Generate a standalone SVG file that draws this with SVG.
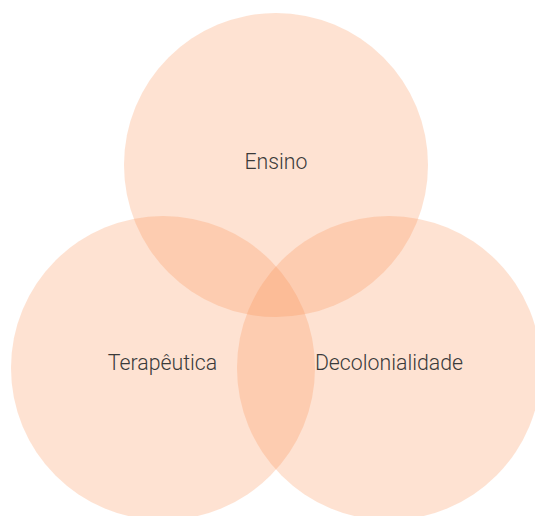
<svg xmlns="http://www.w3.org/2000/svg" width="535" height="516" viewBox="0 0 535 516">
<style>
.c{fill:#fc8d4d;fill-opacity:0.25}
.t{font-family:Roboto,"Liberation Sans",sans-serif;font-weight:300;font-size:21.3px;fill:#3a3a3a;text-anchor:middle}
</style>
<rect width="535" height="516" fill="#fff"/>
<g id="ensino"><circle class="c" cx="276" cy="165" r="152"/></g>
<g id="terapeutica"><circle class="c" cx="163" cy="368" r="152"/></g>
<g id="decolonialidade"><circle class="c" cx="389" cy="368" r="152"/></g>
<g id="labels">
<text class="t" x="276" y="169">Ensino</text>
<text class="t" x="162.5" y="370">Terapêutica</text>
<text class="t" x="389" y="370">Decolonialidade</text>
</g>
<g id="connectors"/>
</svg>
